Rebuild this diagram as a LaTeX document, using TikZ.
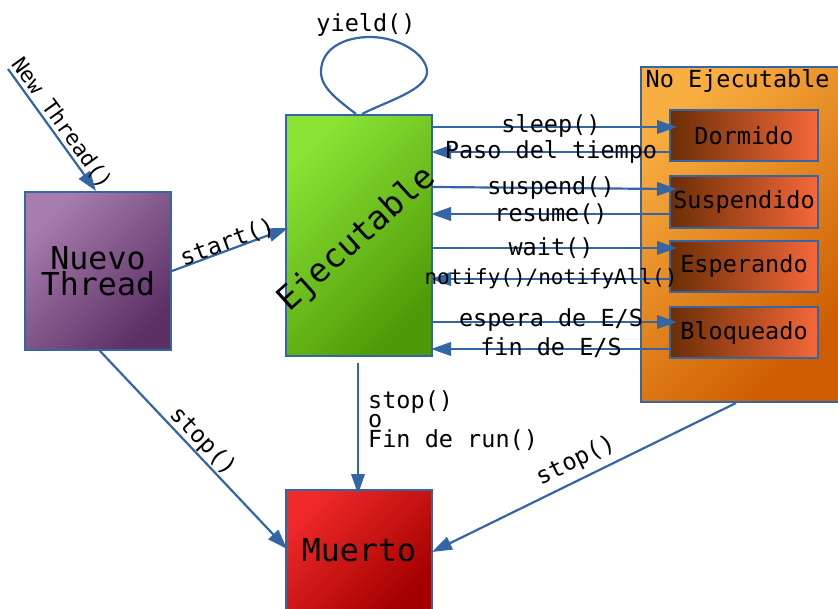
\documentclass[tikz,border=0pt]{standalone}
\usepackage{fontspec}
\newfontfamily\codefont{DejaVu Sans Mono}
\usetikzlibrary{arrows.meta}

\definecolor{edge}{HTML}{3465A4}
\definecolor{purpL}{HTML}{A77DAE}
\definecolor{purpD}{HTML}{5C3065}
\definecolor{greenL}{HTML}{8AE234}
\definecolor{greenD}{HTML}{4E9A06}
\definecolor{orangeL}{HTML}{F8AE40}
\definecolor{orangeD}{HTML}{CE5C00}
\definecolor{redL}{HTML}{EF2929}
\definecolor{redD}{HTML}{A40000}
\definecolor{subL}{HTML}{6B2E05}
\definecolor{subR}{HTML}{F6683A}

\begin{document}
\begin{tikzpicture}[x=1pt,y=-1pt,
  state/.style={draw=edge, line width=2pt, inner sep=0pt, align=center,
    font=\codefont\fontsize{31.6}{26}\selectfont},
  substate/.style={draw=edge, line width=2pt, inner sep=0pt,
    minimum width=148pt, minimum height=51pt,
    left color=subL, right color=subR,
    font=\codefont\fontsize{23.5}{26}\selectfont},
  conn/.style={draw=edge, line width=2.2pt, -{Triangle[length=20pt,width=13.5pt]}},
  loopline/.style={draw=edge, line width=2.2pt},
  lbl/.style={font=\codefont\fontsize{23.5}{19.5}\selectfont, inner sep=0pt}
]
\useasboundingbox (0,0) rectangle (838,609);

% --- states ---
\node[state, minimum width=146pt, minimum height=158pt,
      top color=purpL, bottom color=purpD, shading angle=45]
      (nuevo) at (98,271) {Nuevo\\Thread};

\node[state, minimum width=146pt, minimum height=241pt,
      top color=greenL, bottom color=greenD, shading angle=45]
      (ejec) at (359,235.5) {};
\node[state, draw=none, rotate=42, font=\codefont\fontsize{33}{33}\selectfont]
      (ejectxt) at ([shift={(-2,4)}]ejec.center) {Ejecutable};

\node[state, minimum width=198pt, minimum height=335pt,
      top color=orangeL, bottom color=orangeD, shading angle=45]
      (noej) at (739.5,234.5) {};
\node[lbl, anchor=west] (noejtxt) at ([shift={(6,15)}]noej.north west) {No Ejecutable};

\node[substate] (dorm) at (744,135.5) {Dormido};
\node[substate, minimum height=52pt] (susp) at (744,202) {Suspendido};
\node[substate] (esp)  at (744,266.5) {Esperando};
\node[substate] (bloq) at (744,332.5) {Bloqueado};

\node[state, minimum width=146pt, minimum height=120pt,
      top color=redL, bottom color=redD, shading angle=45]
      (muerto) at (359,550) {Muerto};

% --- creation and start ---
\coordinate (src) at (8,69);
\draw[conn] (src) -- ([shift={(-2,0)}]nuevo.north)
  node[lbl, font=\codefont\fontsize{21.5}{21.5}\selectfont, midway, sloped, above=1pt] {New Thread()};
\draw[conn] (nuevo.east) -- ([shift={(3,-7.5)}]ejec.west)
  node[lbl, midway, sloped, above=-4pt] {start()};

% --- yield loop ---
\draw[loopline] ([shift={(-3,0)}]ejec.north)
  .. controls (338,100) and (321,88) .. (321,72)
  .. controls (321,48) and (345,37) .. (370,37)
  .. controls (400,37) and (427,55) .. (427,72)
  .. controls (427,90) and (385,102) .. ([shift={(3,0)}]ejec.north);
\node[lbl] (yieldtxt) at (366,25) {yield()};

% --- transitions to and from the blocked states ---
\draw[conn, shorten >=-8pt] (ejec.east |- 0,127) -- (dorm.west |- 0,127)
  node[lbl, midway, yshift=1.5pt] {sleep()};
\draw[conn, shorten >=-2pt] (dorm.west |- 0,152) -- (ejec.east |- 0,152)
  node[lbl, midway] {Paso del tiempo};

\draw[conn, shorten >=-8pt] (ejec.east |- 0,187) -- (susp.west |- 0,189)
  node[lbl, midway] {suspend()};
\draw[conn, shorten >=-2pt] (susp.west |- 0,214) -- (ejec.east |- 0,214)
  node[lbl, midway] {resume()};

\draw[conn, shorten >=-8pt] (ejec.east |- 0,248) -- (esp.west |- 0,248)
  node[lbl, midway] {wait()};
\draw[conn, shorten >=-2pt] (esp.west |- 0,279) -- (ejec.east |- 0,279)
  node[lbl, midway, font=\codefont\fontsize{21}{21}\selectfont] {notify()/notifyAll()};

\draw[conn, shorten >=-8pt] (ejec.east |- 0,322) -- (bloq.west |- 0,322)
  node[lbl, midway, yshift=1.5pt] {espera de E/S};
\draw[conn, shorten >=-2pt] (bloq.west |- 0,349) -- (ejec.east |- 0,349)
  node[lbl, midway, yshift=1pt] {fin de E/S};

% --- termination ---
\draw[conn] ([shift={(-1,6)}]ejec.south) -- ([shift={(-1,5)}]muerto.north);
\node[lbl, anchor=north west, align=left] (stoptxt) at ([shift={(9,33)}]ejec.south)
  {stop()\\o\\Fin de run()};

\draw[conn] ([shift={(2,0)}]nuevo.south) -- ([shift={(2,-1)}]muerto.west)
  node[lbl, midway, sloped, above=0pt] {stop()};

\draw[conn] ([shift={(-3.5,0)}]noej.south) -- ([shift={(-1,2)}]muerto.east)
  node[lbl, midway, sloped, above=6pt] {stop()};
\end{tikzpicture}
\end{document}
